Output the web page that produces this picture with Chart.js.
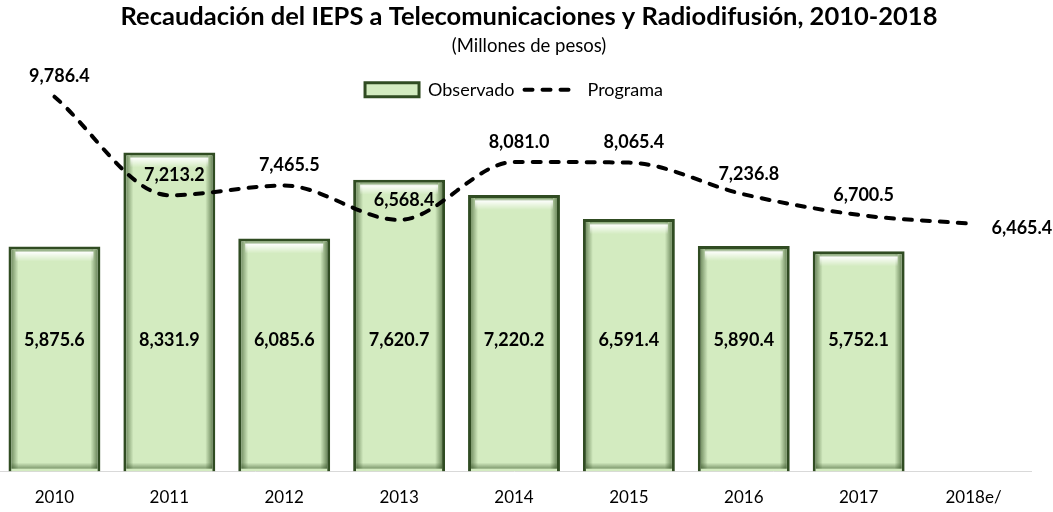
<!DOCTYPE html>
<html><head><meta charset="utf-8">
<script src="https://cdn.jsdelivr.net/npm/chart.js@4.4.1/dist/chart.umd.min.js"></script>
<style>
html,body{margin:0;padding:0;background:#fff;overflow:hidden;width:1053px;height:512px;}
#c{position:absolute;left:-3px;top:0;width:1064px;height:512px;}
</style></head><body>
<canvas id="c" width="1064" height="512"></canvas>
<script>
const categories = ['2010','2011','2012','2013','2014','2015','2016','2017','2018e/'];
const observado = [5875.6, 8331.9, 6085.6, 7620.7, 7220.2, 6591.4, 5890.4, 5752.1, null];
const programa  = [9786.4, 7213.2, 7465.5, 6568.4, 8081.0, 8065.4, 7236.8, 6700.5, 6465.4];
const seriesNames = ['Observado', 'Programa'];
const titleText = 'Recaudación del IEPS a Telecomunicaciones y Radiodifusión, 2010-2018';
const subtitleText = '(Millones de pesos)';

const FONT = 'Lato';
const BAR_FILL = '#d3ebc0';
const BAR_EDGE = '#304c22';

function fmt(v){
  const s = v.toFixed(1); const parts = s.split('.');
  return parts[0].replace(/\B(?=(\d{3})+(?!\d))/g, ',') + '.' + parts[1];
}

const bevelPlugin = {
  id: 'bevel',
  afterDatasetDraw(chart, args) {
    if (args.index !== 0) return;
    const ctx = chart.ctx;
    args.meta.data.forEach((el, i) => {
      if (observado[i] == null) return;
      const w = el.width, x0 = el.x - w/2, x1 = el.x + w/2, y0 = el.y, y1 = el.base, b = 3;
      ctx.save();
      let g = ctx.createLinearGradient(x0 + b, 0, x0 + b + 7, 0);
      g.addColorStop(0, 'rgba(45,75,30,0.55)'); g.addColorStop(1, 'rgba(45,75,30,0)');
      ctx.fillStyle = g; ctx.fillRect(x0 + b, y0 + b, 7, y1 - y0 - 2*b);
      g = ctx.createLinearGradient(x1 - b, 0, x1 - b - 7, 0);
      g.addColorStop(0, 'rgba(45,75,30,0.6)'); g.addColorStop(1, 'rgba(45,75,30,0)');
      ctx.fillStyle = g; ctx.fillRect(x1 - b - 7, y0 + b, 7, y1 - y0 - 2*b);
      g = ctx.createLinearGradient(0, y1 - b, 0, y1 - b - 6);
      g.addColorStop(0, 'rgba(45,75,30,0.5)'); g.addColorStop(1, 'rgba(45,75,30,0)');
      ctx.fillStyle = g; ctx.fillRect(x0 + b, y1 - b - 6, w - 2*b, 6);
      g = ctx.createLinearGradient(0, y0 + b, 0, y0 + b + 12);
      g.addColorStop(0, 'rgba(70,110,50,0.6)'); g.addColorStop(0.25, 'rgba(255,255,255,0.9)'); g.addColorStop(1, 'rgba(255,255,255,0)');
      ctx.fillStyle = g; ctx.fillRect(x0 + b + 4, y0 + b, w - 2*b - 8, 12);
      ctx.restore();
    });
  }
};

const labelPlugin = {
  id: 'valueLabels',
  afterDatasetsDraw(chart, args, opts) {
    const ctx = chart.ctx;
    ctx.save();
    ctx.font = 'bold ' + opts.size + 'px ' + FONT;
    ctx.fillStyle = '#000';
    ctx.textBaseline = 'middle';
    const barMeta = chart.getDatasetMeta(0);
    ctx.textAlign = 'center';
    barMeta.data.forEach((el, i) => {
      if (observado[i] == null) return;
      ctx.fillText(fmt(observado[i]), el.x, chart.chartArea.bottom - opts.barLabelRise);
    });
    const lineMeta = chart.getDatasetMeta(1);
    const n = lineMeta.data.length;
    lineMeta.data.forEach((p, i) => {
      if (i === n - 1) {
        ctx.textAlign = 'left';
        ctx.fillText(fmt(programa[i]), p.x + 18, p.y + 4);
      } else {
        ctx.textAlign = 'center';
        ctx.fillText(fmt(programa[i]), p.x + 5, p.y - 20);
      }
    });
    ctx.restore();
  }
};

function build() {
  new Chart(document.getElementById('c'), {
    data: {
      labels: categories,
      datasets: [
        { type: 'bar', label: seriesNames[0], data: observado,
          backgroundColor: BAR_FILL, borderColor: BAR_EDGE, borderWidth: 3,
          barPercentage: 0.8, categoryPercentage: 1.0, order: 2 },
        { type: 'line', label: seriesNames[1], data: programa,
          borderColor: '#000', backgroundColor: '#000', borderWidth: 4,
          borderDash: [8, 10], borderCapStyle: 'round', pointRadius: 0,
          cubicInterpolationMode: 'monotone', order: 1, clip: false }
      ]
    },
    options: {
      responsive: false, animation: false,
      devicePixelRatio: 1,
      layout: { autoPadding: false, padding: { left: 0, right: 0, top: 0, bottom: -12 } },
      plugins: {
        title: { display: true, text: titleText, color: '#000',
          font: { family: FONT, size: 25.5, weight: 'bold' }, padding: { top: 1, bottom: 0 } },
        subtitle: { display: true, text: subtitleText, color: '#000',
          font: { family: FONT, size: 18.5 }, padding: { top: 3, bottom: 14 } },
        legend: {
          display: true, position: 'top', fullSize: false,
          labels: {
            color: '#000', font: { family: FONT, size: 18 },
            usePointStyle: true, pointStyleWidth: 54, boxHeight: 14, padding: 10,
            sort: (a, b) => a.datasetIndex - b.datasetIndex,
            generateLabels(chart) {
              const items = Chart.defaults.plugins.legend.labels.generateLabels(chart);
              items.forEach(it => {
                if (it.datasetIndex === 1) {
                  it.pointStyle = 'line'; it.lineWidth = 4; it.lineDash = [8, 10];
                  it.lineCap = 'round'; it.strokeStyle = '#000';
                } else {
                  it.pointStyle = 'rect'; it.lineWidth = 3; it.strokeStyle = BAR_EDGE;
                  it.fillStyle = BAR_FILL; it.lineDash = [];
                }
              });
              return items;
            }
          }
        },
        tooltip: { enabled: false },
        valueLabels: { size: 18, barLabelRise: 131 }
      },
      scales: {
        x: {
          grid: { display: false, drawTicks: false },
          border: { display: true, color: '#d9d9d9', width: 1 },
          ticks: { color: '#000', font: { family: FONT, size: 17 }, padding: 16,
            maxRotation: 0, autoSkip: false }
        },
        y: {
          position: 'right', min: 0, max: 9470,
          grid: { display: false, drawTicks: false }, border: { display: false },
          ticks: { display: false },
          afterFit(s) { s.width = 30; }
        }
      }
    },
    plugins: [bevelPlugin, labelPlugin]
  });
}

const loads = ['bold 25.5px Lato', '18.5px Lato', '18px Lato', 'bold 18px Lato', '17px Lato']
  .map(f => document.fonts.load(f).catch(() => null));
Promise.all(loads).then(build, build);
</script>
</body></html>
